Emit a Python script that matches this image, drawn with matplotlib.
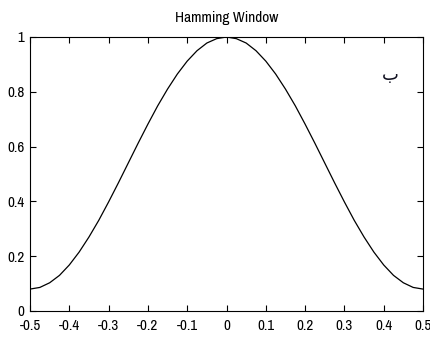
import matplotlib
matplotlib.use("Agg")
import matplotlib.pyplot as plt

# Hamming window samples over normalised time
t = [-0.5, -0.475, -0.45, -0.425, -0.4, -0.375, -0.35, -0.325, -0.3, -0.275,
     -0.25, -0.225, -0.2, -0.175, -0.15, -0.125, -0.1, -0.075, -0.05, -0.025,
     0.0, 0.025, 0.05, 0.075, 0.1, 0.125, 0.15, 0.175, 0.2, 0.225,
     0.25, 0.275, 0.3, 0.325, 0.35, 0.375, 0.4, 0.425, 0.45, 0.475, 0.5]
w = [0.080, 0.086, 0.103, 0.130, 0.168, 0.215, 0.270, 0.331, 0.398, 0.468,
     0.540, 0.612, 0.682, 0.749, 0.810, 0.865, 0.912, 0.950, 0.978, 0.994,
     1.000, 0.994, 0.978, 0.950, 0.912, 0.865, 0.810, 0.749, 0.682, 0.612,
     0.540, 0.468, 0.398, 0.331, 0.270, 0.215, 0.168, 0.130, 0.103, 0.086, 0.080]
xticks = [-0.5, -0.4, -0.3, -0.2, -0.1, 0, 0.1, 0.2, 0.3, 0.4, 0.5]
xlabels = ["-0.5", "-0.4", "-0.3", "-0.2", "-0.1", "0", "0.1", "0.2", "0.3", "0.4", "0.5"]
yticks = [0, 0.2, 0.4, 0.6, 0.8, 1]
ylabels = ["0", "0.2", "0.4", "0.6", "0.8", "1"]

fam = ["Archivo Narrow", "Liberation Sans"]

fig = plt.figure(figsize=(4.30, 3.38), dpi=100)
ax = fig.add_axes([30 / 430, 1 - 311 / 338, 393 / 430, 274 / 338])
ax.plot(t, w, color="black", lw=0.9)
ax.set_xlim(-0.5, 0.5)
ax.set_ylim(0, 1)
ax.set_xticks(xticks)
ax.set_xticklabels(xlabels, family=fam, fontsize=10.8)
ax.set_yticks(yticks)
ax.set_yticklabels(ylabels, family=fam, fontsize=10.8)
ax.tick_params(direction="in", top=True, right=True, length=4, width=0.8)
ax.tick_params(axis="x", pad=6)
ax.tick_params(axis="y", pad=4)
for s in ax.spines.values():
    s.set_linewidth(0.8)
ax.set_title("Hamming Window", family=fam, fontsize=11, pad=11)
ax.text(0.418, 0.86, "\ufe8f", family=["DejaVu Sans"], fontsize=13,
        color="#101020", ha="center", va="center")
fig.savefig("out.png", dpi=100)
